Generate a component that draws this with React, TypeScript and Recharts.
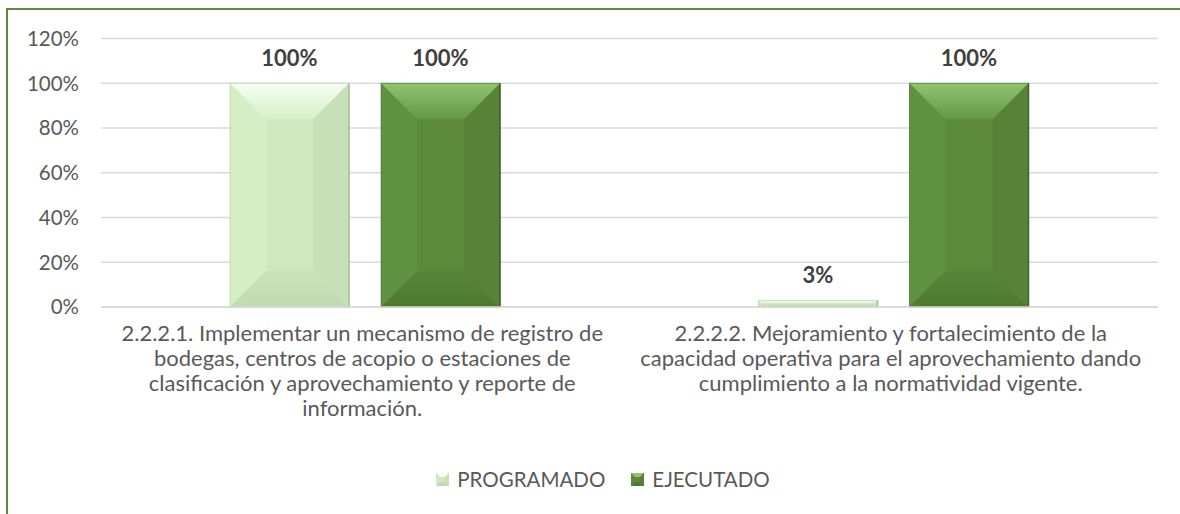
import React from 'react';
import { BarChart, Bar, XAxis, YAxis, CartesianGrid, Legend, LabelList } from 'recharts';

const categories = [
  '2.2.2.1. Implementar un mecanismo de registro de bodegas, centros de acopio o estaciones de clasificación y aprovechamiento y reporte de información.',
  '2.2.2.2. Mejoramiento y fortalecimiento de la capacidad operativa para el aprovechamiento dando cumplimiento a la normatividad vigente.',
];
const categoryLines = [
  ['2.2.2.1. Implementar un mecanismo de registro de', 'bodegas, centros de acopio o estaciones de', 'clasificación y aprovechamiento y reporte de', 'información.'],
  ['2.2.2.2. Mejoramiento y fortalecimiento de la', 'capacidad operativa para el aprovechamiento dando', 'cumplimiento a la normatividad vigente.'],
];
const programado = [1.0, 0.03];
const ejecutado = [1.0, 1.0];
const yTicks = [0, 0.2, 0.4, 0.6, 0.8, 1.0, 1.2];
const seriesNames = ['PROGRAMADO', 'EJECUTADO'];

const data = categories.map((c, i) => ({ name: c, idx: i, programado: programado[i], ejecutado: ejecutado[i] }));

const FONT = 'Lato, "Noto Sans", sans-serif';

type Pal = { base: string; left: string; right: string; top1: string; top2: string; bot1: string; bot2: string; edge: string; id: string };
const palProg: Pal = { base: '#cee8c0', left: '#d4eec6', right: '#c6e1b7', top1: '#f7fff2', top2: '#d6efc9', bot1: '#cae4bb', bot2: '#bfdbb0', edge: '#a3c193', id: 'gProg' };
const palEjec: Pal = { base: '#5b8b3a', left: '#5f9140', right: '#578237', top1: '#90c46e', top2: '#659847', bot1: '#57863a', bot2: '#4d7a30', edge: '#3d6524', id: 'gEjec' };

const makeShape = (p: Pal) => (props: any) => {
  const { x, y, width: w, height: h } = props;
  if (!h || h <= 0) return null;
  const b = Math.min(36, w / 2, h / 2);
  const x2 = x + w;
  const y2 = y + h;
  return (
    <g>
      <rect x={x} y={y} width={w} height={h} fill={p.base} />
      <polygon points={`${x},${y} ${x + b},${y + b} ${x + b},${y2 - b} ${x},${y2}`} fill={p.left} />
      <polygon points={`${x2},${y} ${x2 - b},${y + b} ${x2 - b},${y2 - b} ${x2},${y2}`} fill={p.right} />
      <polygon points={`${x},${y} ${x2},${y} ${x2 - b},${y + b} ${x + b},${y + b}`} fill={`url(#${p.id}T)`} />
      <polygon points={`${x},${y2} ${x2},${y2} ${x2 - b},${y2 - b} ${x + b},${y2 - b}`} fill={`url(#${p.id}B)`} />
      <rect x={x} y={y} width={w} height={h} fill="none" stroke={p.edge} strokeWidth={0.8} strokeOpacity={0.6} />
      <line x1={x2} y1={y} x2={x2} y2={y2} stroke={p.edge} strokeWidth={1.5} />
    </g>
  );
};

const CategoryTick = (props: any) => {
  const { x, y, payload } = props;
  const lines = categoryLines[payload.index] || [String(payload.value)];
  return (
    <g transform={`translate(${x},${y})`}>
      <text textAnchor="middle" fill="#595959" fontFamily={FONT} fontSize={22}>
        {lines.map((l: string, i: number) => (
          <tspan key={i} x={-3} y={26 + i * 25}>{l}</tspan>
        ))}
      </text>
    </g>
  );
};

const ValueLabel = (props: any) => {
  const { x, y, width, value } = props;
  return (
    <text x={x + width / 2} y={y - 17} textAnchor="middle" fill="#404040" fontFamily={FONT} fontWeight={700} fontSize={22}>
      {`${Math.round(value * 100)}%`}
    </text>
  );
};

const LegendContent = () => {
  const pals = [palProg, palEjec];
  return (
    <div style={{ display: 'flex', justifyContent: 'center', paddingLeft: 26, fontFamily: FONT, fontSize: 20.5, color: '#595959' }}>
      {seriesNames.map((n, i) => (
        <div key={n} style={{ display: 'flex', alignItems: 'center', marginRight: i === 0 ? 26 : 0 }}>
          <svg width={13} height={13} style={{ marginRight: 8 }}>
            <rect x={0} y={0} width={13} height={13} fill={pals[i].base} />
            <polygon points="0,0 13,0 9,4 4,4" fill={pals[i].top1} />
            <polygon points="0,13 13,13 9,9 4,9" fill={pals[i].bot2} />
            <polygon points="13,0 13,13 9,9 9,4" fill={pals[i].right} />
          </svg>
          <span>{n}</span>
        </div>
      ))}
    </div>
  );
};

export default function App() {
  return (
    <div style={{ position: 'absolute', left: 0, top: 0, width: 1180, height: 514, background: '#fff', overflow: 'hidden' }}>
      <div style={{ position: 'absolute', left: 6, top: 8, width: 1200, height: 560, border: '2px solid #5b8b3a', boxSizing: 'border-box' }} />
      <div style={{ position: 'absolute', left: 0, top: 0 }}>
        <BarChart width={1180} height={514} data={data} margin={{ top: 38.5, right: 22, left: 0, bottom: 57 }} barCategoryGap={129} barGap={32}>
          <defs>
            <linearGradient id="gProgT" x1="0" y1="0" x2="0" y2="1">
              <stop offset="0%" stopColor={palProg.top1} />
              <stop offset="100%" stopColor={palProg.top2} />
            </linearGradient>
            <linearGradient id="gEjecT" x1="0" y1="0" x2="0" y2="1">
              <stop offset="0%" stopColor={palEjec.top1} />
              <stop offset="100%" stopColor={palEjec.top2} />
            </linearGradient>
            <linearGradient id="gProgB" x1="0" y1="0" x2="0" y2="1">
              <stop offset="0%" stopColor={palProg.bot1} />
              <stop offset="100%" stopColor={palProg.bot2} />
            </linearGradient>
            <linearGradient id="gEjecB" x1="0" y1="0" x2="0" y2="1">
              <stop offset="0%" stopColor={palEjec.bot1} />
              <stop offset="100%" stopColor={palEjec.bot2} />
            </linearGradient>
          </defs>
          <CartesianGrid vertical={false} stroke="#d9d9d9" strokeWidth={1.6} />
          <XAxis dataKey="name" height={150} axisLine={{ stroke: '#d9d9d9', strokeWidth: 1.6 }} tickLine={false} tick={<CategoryTick />} interval={0} />
          <YAxis width={101} domain={[0, 1.2]} ticks={yTicks} axisLine={false} tickLine={false} tickMargin={16}
            tickFormatter={(v: number) => `${Math.round(v * 100)}%`}
            tick={{ fill: '#595959', fontFamily: FONT, fontSize: 20.5 }} />
          <Legend verticalAlign="middle" align="center" content={<LegendContent />}
            wrapperStyle={{ top: 467, left: 0, width: 1180, height: 26 }} />
          <Bar dataKey="programado" name={seriesNames[0]} isAnimationActive={false} shape={makeShape(palProg)}>
            <LabelList dataKey="programado" content={<ValueLabel />} />
          </Bar>
          <Bar dataKey="ejecutado" name={seriesNames[1]} isAnimationActive={false} shape={makeShape(palEjec)}>
            <LabelList dataKey="ejecutado" content={<ValueLabel />} />
          </Bar>
        </BarChart>
      </div>
    </div>
  );
}
